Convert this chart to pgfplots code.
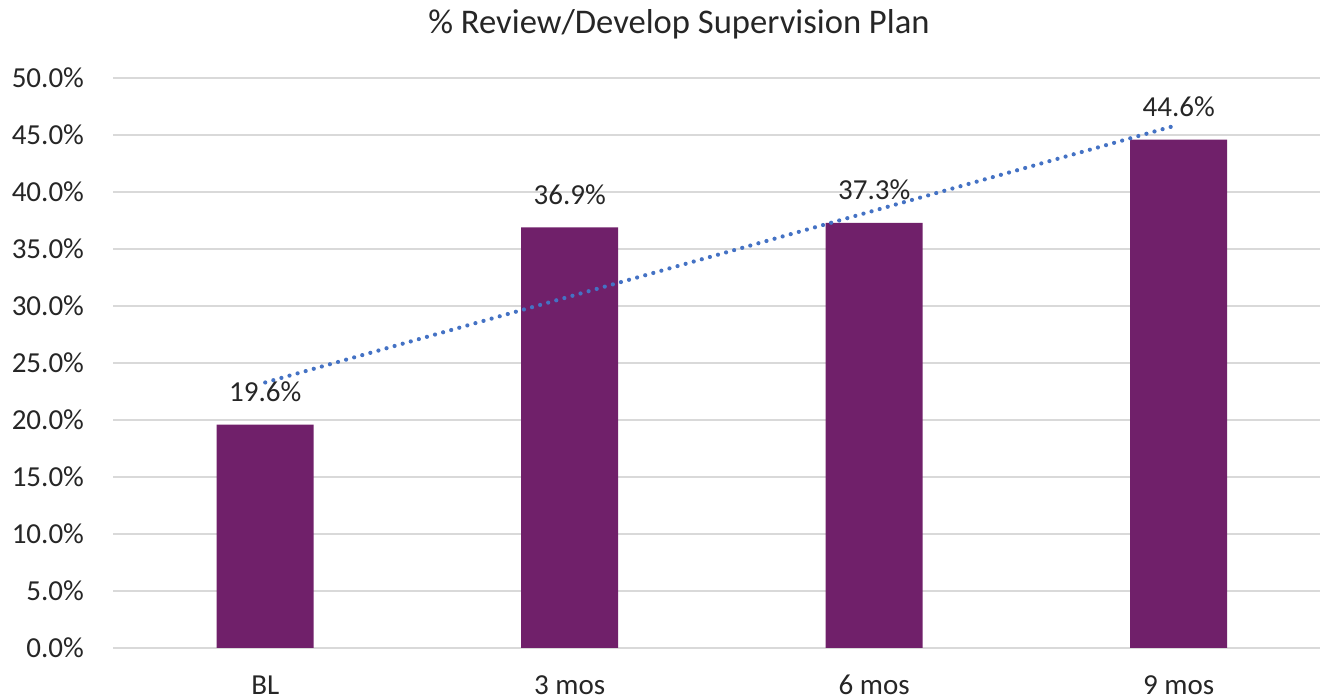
\documentclass[border=0pt]{standalone}
\usepackage{pgfplots}
\pgfplotsset{compat=1.18}
\usepackage{fontspec}
\setmainfont{Carlito}
\definecolor{barpurple}{HTML}{70206A}
\definecolor{trendblue}{HTML}{4472C4}
\definecolor{gridgray}{HTML}{D9D9D9}
\begin{document}
\begin{tikzpicture}
\useasboundingbox (0,0) rectangle (660pt,349.5pt);
\node[font=\fontsize{17.3pt}{20pt}\selectfont, text=black!85, anchor=center] at (339.5pt,337.5pt) {\% Review/Develop Supervision Plan};
\begin{axis}[
  at={(56.5pt,25.5pt)}, anchor=south west,
  scale only axis, width=603.5pt, height=285pt,
  xmin=-0.5, xmax=3.464, ymin=0, ymax=50,
  axis line style={draw=none},
  tick style={draw=none},
  ymajorgrids, grid style={gridgray, line width=0.8pt},
  ytick={0,5,...,50},
  yticklabels={0.0\%,5.0\%,10.0\%,15.0\%,20.0\%,25.0\%,30.0\%,35.0\%,40.0\%,45.0\%,50.0\%},
  xtick={0,1,2,3},
  xticklabels={BL,3 mos,6 mos,9 mos},
  tick label style={font=\fontsize{14.5pt}{17pt}\selectfont, text=black!85},
  yticklabel style={xshift=-11pt},
  xticklabel style={anchor=base, inner sep=0pt, yshift=-23.3pt},
  /pgf/number format/assume math mode=true,
  clip=false,
]
\addplot[ybar, bar width=48.5pt, fill=barpurple, draw=none,
  nodes near coords={\pgfmathprintnumber[fixed,fixed zerofill,precision=1]{\pgfplotspointmeta}\%},
  every node near coord/.append style={font=\fontsize{14.5pt}{17pt}\selectfont, text=black!85, yshift=8pt}]
  coordinates {(0,19.6) (1,36.9) (2,37.3) (3,44.6)};
% linear trend of the four values
\addplot[trendblue, line width=2.1pt, line cap=round, dash pattern=on 0pt off 4.2pt]
  coordinates {(0,23.29) (3,45.91)};
\end{axis}
\end{tikzpicture}
\end{document}
